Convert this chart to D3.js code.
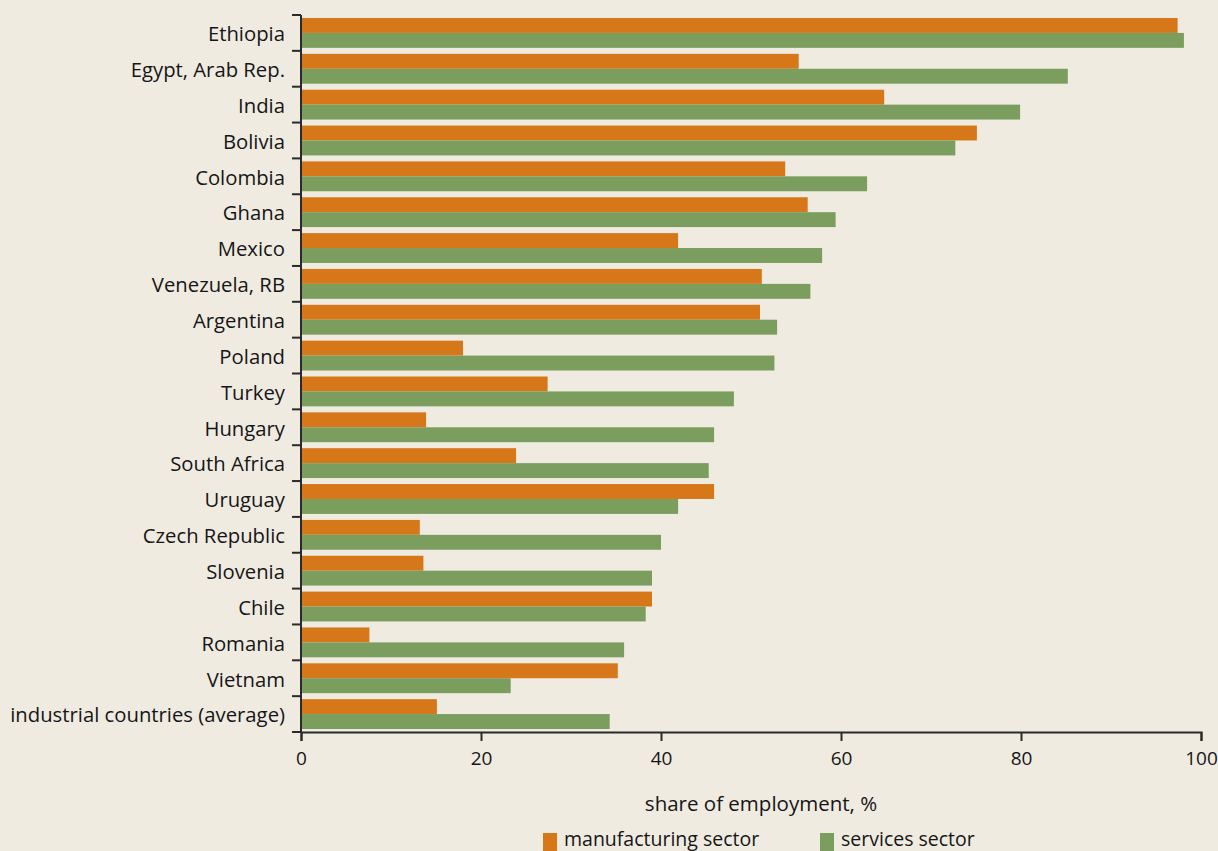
<!DOCTYPE html>
<html>
<head>
<meta charset="utf-8">
<script src="https://cdn.jsdelivr.net/npm/d3@7"></script>
<style>
  html, body { margin: 0; padding: 0; background: #EFEBE1; }
  svg { display: block; }
  text { font-family: "Open Sans", "Noto Sans", sans-serif; fill: #161616; }
</style>
</head>
<body>
<svg id="chart" width="1218" height="851"></svg>
<script>
const categories = ["Ethiopia", "Egypt, Arab Rep.", "India", "Bolivia", "Colombia", "Ghana", "Mexico",
  "Venezuela, RB", "Argentina", "Poland", "Turkey", "Hungary", "South Africa", "Uruguay",
  "Czech Republic", "Slovenia", "Chile", "Romania", "Vietnam", "industrial countries (average)"];
const manufacturing = [97.4, 55.3, 64.8, 75.1, 53.8, 56.3, 41.9, 51.2, 51.0, 18.0, 27.4, 13.9, 23.9, 45.9, 13.2, 13.6, 39.0, 7.6, 35.2, 15.1];
const services = [98.1, 85.2, 79.9, 72.7, 62.9, 59.4, 57.9, 56.6, 52.9, 52.6, 48.1, 45.9, 45.3, 41.9, 40.0, 39.0, 38.3, 35.9, 23.3, 34.3];
const seriesNames = ["manufacturing sector", "services sector"];
const xTicks = [0, 20, 40, 60, 80, 100];
const axisTitle = "share of employment, %";

(function () {
const colors = ["#D6781A", "#7B9E5E"];
const svg = d3.select("#chart");
const mLeft = 301, mRight = 1201, mTop = 15, mBottom = 732;

const x = d3.scaleLinear().domain([0, 100]).range([mLeft, mRight]);
const y = d3.scaleBand().domain(categories).range([mTop, mBottom]).padding(0);
const bw = y.bandwidth();
const sub = d3.scaleBand().domain([0, 1]).range([3, bw - 3]).padding(0);

const rows = categories.map((c, i) => ({ c, vals: [manufacturing[i], services[i]] }));

const g = svg.append("g");
rows.forEach(r => {
  r.vals.forEach((v, k) => {
    g.append("rect")
      .attr("x", x(0))
      .attr("y", y(r.c) + sub(k))
      .attr("width", x(v) - x(0))
      .attr("height", sub.bandwidth())
      .attr("fill", colors[k]);
  });
});

const axisColor = "#2a2a2a";
svg.append("line").attr("x1", mLeft).attr("x2", mLeft).attr("y1", mTop).attr("y2", mBottom)
  .attr("stroke", axisColor).attr("stroke-width", 2);
const bounds = categories.map(c => y(c)).concat([y.range()[1]]);
svg.selectAll(".yt").data(bounds).enter().append("line")
  .attr("x1", mLeft - 9).attr("x2", mLeft).attr("y1", d => d).attr("y2", d => d)
  .attr("stroke", axisColor).attr("stroke-width", 2);

svg.selectAll(".yl").data(categories).enter().append("text")
  .attr("x", mLeft - 16)
  .attr("y", d => y(d) + bw / 2 + 1)
  .attr("dy", "0.36em")
  .attr("text-anchor", "end")
  .attr("font-size", 20.3)
  .text(d => d);

const xAxis = svg.append("g").attr("transform", `translate(0,${mBottom})`)
  .call(d3.axisBottom(x).tickValues(xTicks).tickSize(9).tickPadding(11).tickFormat(d3.format("d")));
xAxis.select(".domain").attr("stroke", axisColor).attr("stroke-width", 2);
xAxis.selectAll(".tick line").attr("stroke", axisColor).attr("stroke-width", 2);
xAxis.selectAll(".tick text").attr("font-size", 19).attr("font-family", "Open Sans, sans-serif").attr("fill", "#161616");

svg.append("text").attr("x", 761).attr("y", 811).attr("text-anchor", "middle")
  .attr("font-size", 20.5).text(axisTitle);

const legX = [543, 820];
seriesNames.forEach((n, k) => {
  svg.append("rect").attr("x", legX[k]).attr("y", 833).attr("width", 14).attr("height", 18).attr("fill", colors[k]);
  svg.append("text").attr("x", legX[k] + 21).attr("y", 846).attr("font-size", 19.5).text(n);
});
})();
</script>
</body>
</html>
